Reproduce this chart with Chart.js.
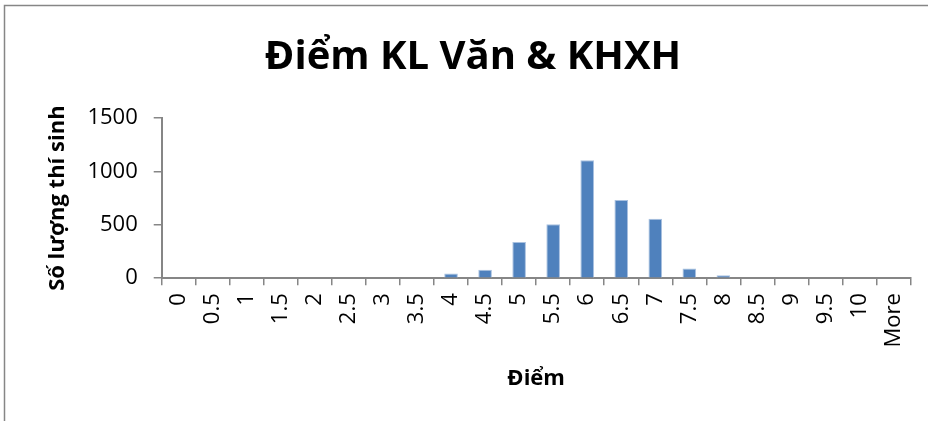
<!DOCTYPE html>
<html>
<head>
<meta charset="utf-8">
<script src="https://cdn.jsdelivr.net/npm/chart.js@4"></script>
<style>
    html, body { margin: 0; padding: 0; background: #fff; }
    #wrap { width: 928px; height: 421px; position: relative; }
</style>
</head>
<body>
<div id="wrap"><canvas id="chart" width="928" height="421"></canvas></div>
<script>
// Data
const categories = ['0', '0.5', '1', '1.5', '2', '2.5', '3', '3.5', '4', '4.5', '5',
    '5.5', '6', '6.5', '7', '7.5', '8', '8.5', '9', '9.5', '10', 'More'];
const counts = [0, 0, 0, 0, 0, 0, 0, 0, 45, 80, 340, 505, 1104, 732, 557, 91, 28, 0, 0, 0, 0, 0];
const yTicks = [0, 500, 1000, 1500];

const FONT = '"Open Sans", sans-serif';
const AXIS_GREY = '#868686';

// Outer chart frame (Excel-style border)
const framePlugin = {
    id: 'frame',
    beforeDraw(chart) {
        const ctx = chart.ctx;
        ctx.save();
        ctx.fillStyle = '#fff';
        ctx.fillRect(0, 0, chart.width, chart.height);
        ctx.strokeStyle = AXIS_GREY;
        ctx.lineWidth = 1.5;
        ctx.strokeRect(4.5, 5.5, 960, 500);
        ctx.restore();
    }
};

new Chart(document.getElementById('chart'), {
    type: 'bar',
    data: {
        labels: categories,
        datasets: [{
            data: counts,
            backgroundColor: '#4f81bd',
            borderColor: '#a9c1e0',
            borderWidth: 1,
            barPercentage: 0.4,
            categoryPercentage: 1
        }]
    },
    options: {
        responsive: false,
        animation: false,
        layout: { padding: { left: 20, right: 2, top: 12, bottom: 25 } },
        plugins: {
            legend: { display: false },
            tooltip: { enabled: false },
            title: {
                display: true,
                text: 'Điểm KL Văn & KHXH',
                color: '#000',
                font: { family: FONT, size: 40, weight: 'bold' },
                padding: { top: 22, bottom: 36 }
            }
        },
        scales: {
            x: {
                grid: {
                    display: true,
                    drawOnChartArea: false,
                    offset: true,
                    color: AXIS_GREY,
                    lineWidth: 1.5,
                    tickLength: 7
                },
                border: { color: AXIS_GREY, width: 2 },
                ticks: {
                    color: '#000',
                    font: { family: FONT, size: 22 },
                    minRotation: 90,
                    maxRotation: 90,
                    autoSkip: false,
                    padding: 8
                },
                title: {
                    display: true,
                    text: 'Điểm',
                    color: '#000',
                    font: { family: FONT, size: 22, weight: 'bold' },
                    padding: { top: 10 }
                }
            },
            y: {
                min: 0,
                max: 1500,
                afterBuildTicks(axis) {
                    axis.ticks = yTicks.map(v => ({ value: v }));
                },
                grid: {
                    display: true,
                    drawOnChartArea: false,
                    color: AXIS_GREY,
                    lineWidth: 1.5,
                    tickLength: 8
                },
                border: { color: AXIS_GREY, width: 2 },
                ticks: {
                    color: '#000',
                    font: { family: FONT, size: 22 },
                    padding: 16,
                    callback: v => String(v)
                },
                title: {
                    display: true,
                    text: 'Số lượng thí sinh',
                    color: '#000',
                    font: { family: FONT, size: 22, weight: 'bold' },
                    padding: { top: 25, bottom: 0 }
                }
            }
        }
    },
    plugins: [framePlugin]
});
</script>
</body>
</html>
